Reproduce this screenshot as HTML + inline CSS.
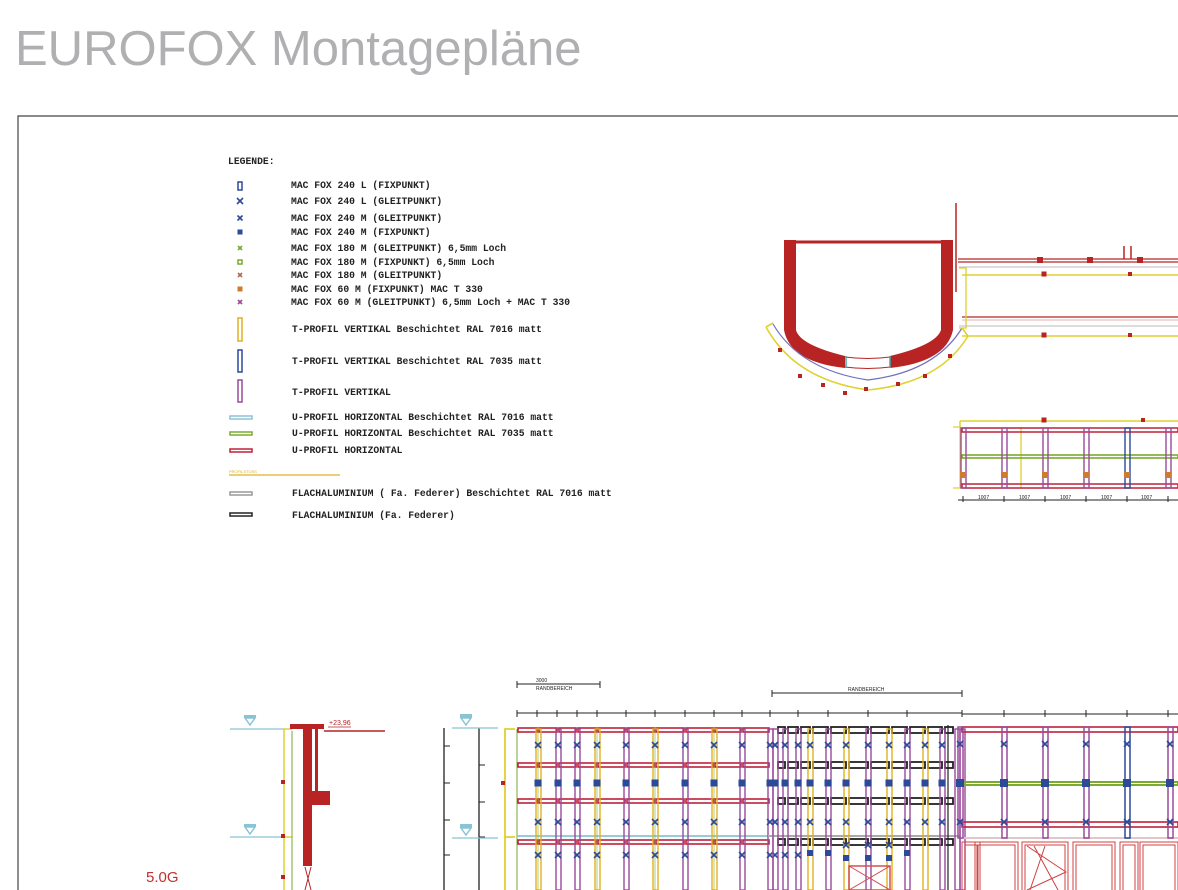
<!DOCTYPE html>
<html><head><meta charset="utf-8"><style>
html,body{margin:0;padding:0;background:#fff;width:1178px;height:890px;overflow:hidden}
svg{display:block}
.t{font-family:"Liberation Mono",monospace;font-weight:bold;font-size:9.7px;fill:#222}
.s{font-family:"Liberation Sans",sans-serif;font-size:5px;fill:#222}
</style></head><body>
<svg id="s" width="1178" height="890" xmlns="http://www.w3.org/2000/svg">
<text x="15" y="65" font-family="Liberation Sans,sans-serif" font-size="49" fill="#b0b0b3">EUROFOX Montagepläne</text>
<path d="M18 890V116H1178" fill="none" stroke="#444" stroke-width="1.2"/>
<text x="228" y="164" class="t" font-size="11">LEGENDE:</text>
<g class="t">
<text x="291" y="188">MAC FOX 240 L (FIXPUNKT)</text>
<text x="291" y="204">MAC FOX 240 L (GLEITPUNKT)</text>
<text x="291" y="221">MAC FOX 240 M (GLEITPUNKT)</text>
<text x="291" y="235">MAC FOX 240 M (FIXPUNKT)</text>
<text x="291" y="251">MAC FOX 180 M (GLEITPUNKT) 6,5mm Loch</text>
<text x="291" y="265">MAC FOX 180 M (FIXPUNKT) 6,5mm Loch</text>
<text x="291" y="278">MAC FOX 180 M (GLEITPUNKT)</text>
<text x="291" y="292">MAC FOX 60 M (FIXPUNKT) MAC T 330</text>
<text x="291" y="305">MAC FOX 60 M (GLEITPUNKT) 6,5mm Loch + MAC T 330</text>
<text x="292" y="332">T-PROFIL VERTIKAL Beschichtet RAL 7016 matt</text>
<text x="292" y="364">T-PROFIL VERTIKAL Beschichtet RAL 7035 matt</text>
<text x="292" y="395">T-PROFIL VERTIKAL</text>
<text x="292" y="420">U-PROFIL HORIZONTAL Beschichtet RAL 7016 matt</text>
<text x="292" y="436">U-PROFIL HORIZONTAL Beschichtet RAL 7035 matt</text>
<text x="292" y="453">U-PROFIL HORIZONTAL</text>
<text x="292" y="496">FLACHALUMINIUM ( Fa. Federer) Beschichtet RAL 7016 matt</text>
<text x="292" y="518">FLACHALUMINIUM (Fa. Federer)</text>
</g>
<text x="146" y="882" font-family="Liberation Sans,sans-serif" font-size="15" fill="#c03030">5.0G</text>
<text x="329" y="725" font-family="Liberation Sans,sans-serif" font-size="7" fill="#b22">+23,96</text>
<g id="g"></g>
</svg>
<script>
var g=document.getElementById('g'),o='';
function r(x,y,w,h,c,sw,f){o+='<rect x="'+x+'" y="'+y+'" width="'+w+'" height="'+h+'" fill="'+(f||'none')+'" stroke="'+c+'" stroke-width="'+(sw||1.3)+'"/>';}
function l(x1,y1,x2,y2,c,sw){o+='<line x1="'+x1+'" y1="'+y1+'" x2="'+x2+'" y2="'+y2+'" stroke="'+c+'" stroke-width="'+(sw||1)+'"/>';}
function X(x,y,c,s){s=s||3;l(x-s,y-s,x+s,y+s,c,1.6);l(x-s,y+s,x+s,y-s,c,1.6);}
function S(x,y,c,s){s=s||3.5;o+='<rect x="'+(x-s)+'" y="'+(y-s)+'" width="'+2*s+'" height="'+2*s+'" fill="'+c+'"/>';}
var R='#c0203a',P='#9a4a9a',Y='#e0b020',B='#2b4a9a',G='#7aaa30',C='#8ac4d4',K='#222',RD='#b82424';
r(238,182,4,8,B,1.5);X(240,201,B,3);X(240,218,B,2.5);S(240,232,B,2.5);X(240,248,G,2);r(238,260,4,4,G,1.5);X(240,275,'#b06a50',2);S(240,289,'#d07a30',2.5);X(240,302,P,2);
r(238,318,4,23,Y,1.5);r(238,350,4,22,B,1.5);r(238,380,4,22,P,1.5);
r(230,416,22,3,C,1.5);r(230,432,22,3,G,1.5);r(230,449,22,3,R,1.5);
l(229,475,340,475,Y,1.3);o+='<text x="229" y="473" font-family="Liberation Sans" font-size="4" fill="'+Y+'">PROFILSTOSS</text>';
r(230,492,22,3,'#999',1.5);r(230,513,22,3,K,1.5);
o+='<path d="M790 242H947" stroke="'+RD+'" stroke-width="3" fill="none"/>';
o+='<path d="M784 240H796V330Q800 345 845 356V368Q790 362 784 330Z" fill="'+RD+'"/>';
o+='<path d="M953 240H941V330Q936 345 890 356V368Q946 362 953 330Z" fill="'+RD+'"/>';
o+='<path d="M845 357Q868 360 890 357M845 367Q868 370 890 367" stroke="'+RD+'" fill="none" stroke-width="1"/>';
l(846,356,846,368,'#4aa',1.5);l(890,356,890,368,'#4aa',1.5);
o+='<path d="M773 324Q800 370 868 380Q935 372 962 328" stroke="#7070c0" fill="none" stroke-width="1.2"/>';
o+='<path d="M766 327L773 323M766 327Q795 380 868 390Q940 383 968 336L962 328" stroke="#e0d030" fill="none" stroke-width="1.6"/>';
[[780,350],[800,376],[823,385],[845,393],[866,389],[898,384],[925,376],[950,356],[797,346]].forEach(function(p){S(p[0],p[1],RD,2);});
l(956,203,956,292,RD,1.5);
o+='<path d="M958 259H1178M958 262H1178" stroke="'+RD+'" stroke-width="1.3"/>';
[1040,1090,1140].forEach(function(x){S(x,260,RD,3);});
l(1124,246,1124,259,RD,1.5);l(1131,246,1131,259,RD,1.5);
l(959,267,1178,267,'#bbb',1);l(959,326,1178,326,'#bbb',1);
l(962,275,1178,275,'#e0d030',1.6);l(962,336,1178,336,'#e0d030',1.6);
l(962,317,1178,317,RD,1.3);l(962,320,1178,320,'#e8b0b0',1);
o+='<path d="M959 268H966V328H959" stroke="#e0d030" fill="none" stroke-width="1.3"/>';
S(1044,274,RD,2.5);S(1044,335,RD,2.5);S(1130,274,RD,2);S(1130,335,RD,2);
l(960,421,1178,421,'#e0d030',1.5);l(960,421,960,427,'#e0d030',1.5);S(1044,420,RD,2.5);S(1143,420,RD,2);
o+='<path d="M953 427H960V488H953" stroke="#e0d030" fill="none" stroke-width="1.3"/>';
l(1021,427,1021,488,'#e0d030',1.3);
r(962,428,216,4,R,1.5);r(962,484,216,4,R,1.5);r(962,455,216,3,G,1.6);
[963,1004,1045,1086,1127,1168].forEach(function(x,i){r(x-2,428,5,60,i==4?B:P,1.4);S(x,475,'#d07a30',3);});
l(958,500,1178,500,K,1);[963,1004,1045,1086,1127,1168].forEach(function(x){l(x,496,x,502,K,1);});
[985,1026,1067,1108,1148].forEach(function(x){o+='<text x="'+(x-7)+'" y="499" class="s">1007</text>';});
l(230,729,285,729,C,1.2);l(230,837,285,837,C,1.2);
o+='<path d="M245 718H255L250 725Z" fill="none" stroke="'+C+'" stroke-width="1.5"/><path d="M245 827H255L250 834Z" fill="none" stroke="'+C+'" stroke-width="1.5"/>';
o+='<rect x="244" y="715" width="12" height="3" fill="'+C+'"/><rect x="244" y="824" width="12" height="3" fill="'+C+'"/>';
l(284,729,284,890,'#e0d030',1.5);l(284,729,292,729,'#e0d030',1.5);l(284,837,292,837,'#e0d030',1.5);l(292,731,292,890,G,1);
o+='<rect x="290" y="724" width="34" height="5" fill="'+RD+'"/><rect x="303" y="729" width="9" height="137" fill="'+RD+'"/><rect x="315" y="729" width="3" height="62" fill="'+RD+'"/><rect x="312" y="791" width="18" height="14" fill="'+RD+'"/>';
l(324,731,385,731,RD,1.5);l(328,727,351,727,RD,.8);
S(283,782,RD,2);S(283,836,RD,2);S(283,877,RD,2);
o+='<path d="M305 867L311 890M311 867L305 890" stroke="'+RD+'"/>';
l(444,728,444,890,K,1.3);l(479,728,479,890,K,1.3);
[746,783,820,855].forEach(function(y){l(444,y,450,y,K,1);l(479,y-18,485,y-18,K,1);});
l(452,728,498,728,C,1.2);l(452,838,498,838,C,1.2);
o+='<path d="M461 718H471L466 725Z" fill="none" stroke="'+C+'" stroke-width="1.5"/><path d="M461 828H471L466 835Z" fill="none" stroke="'+C+'" stroke-width="1.5"/>';
o+='<rect x="460" y="714" width="12" height="4" fill="'+C+'"/><rect x="460" y="824" width="12" height="4" fill="'+C+'"/>';
o+='<path d="M515 729H505V890M505 837H515" stroke="#e0d030" fill="none" stroke-width="1.8"/>';S(503,783,RD,2);
l(517,729,517,890,G,1);
l(517,684,600,684,K,1);l(517,681,517,688,K,1);l(600,681,600,688,K,1);
o+='<text x="536" y="682" class="s">3000</text><text x="536" y="690" class="s">RANDBEREICH</text>';
l(772,693,962,693,K,1);l(772,690,772,697,K,1);l(962,690,962,697,K,1);o+='<text x="848" y="691" class="s">RANDBEREICH</text>';
l(517,713,962,713,K,1);l(962,714,1178,714,K,1);
[517,537,557,577,597,626,655,685,714,742,770,798,828,868,907,962,1004,1045,1086,1127,1168].forEach(function(x){l(x,710,x,717,K,1);});
var lv=[517,538,558,577,597,626,655,685,714,742,770];
[730,765,801,842].forEach(function(y){for(var i=0;i<lv.length-1;i++)r(lv[i]+1,y-2,lv[i+1]-lv[i]-2,4,R,1.6);});
l(517,836,770,836,C,1.8);
lv.slice(1).forEach(function(x){var c=(x==538||x==597||x==655||x==714)?Y:P;r(x-2,729,5,161,c,1.4);if(c==Y)l(x,729,x,890,G,.6);X(x,745,B);X(x,822,B);X(x,855,B);S(x,783,B);});
X(775,745,B);X(775,822,B);X(775,855,B);S(775,783,B);
var mv=[775,785,798,810,828,846,868,889,907,925,942,957,962];
var mb=[777,787,800,812,830,848,870,891,909,927,944,955];
[730,765,801,842].forEach(function(y){for(var i=0;i<mb.length-1;i++)r(mb[i]+1,y-3,mb[i+1]-mb[i]-3,6,K,1.8);});
l(768,836,960,836,'#aaa',2);
mv.forEach(function(x){var c=(x==810||x==846||x==889||x==925)?Y:P;r(x-2,729,5,161,c,1.4);if(x<950){X(x,745,B);X(x,822,B);S(x,783,B);}});
[785,798].forEach(function(x){X(x,855,B);});[810,828,907].forEach(function(x){S(x,853,B,3);});[846,868,889].forEach(function(x){S(x,858,B,3);X(x,845,B);});
l(948,725,948,890,K,1.2);
r(849,866,41,24,'#d05050',1.5);l(849,866,890,890,'#d05050',1);l(890,866,849,890,'#d05050',1);
[729,824].forEach(function(y){r(962,y-2,216,5,R,1.6);});r(962,782,216,3,G,2);
l(962,838,1178,838,'#e0c8c8',2);
[960,1004,1045,1086,1127,1170].forEach(function(x,i){r(x-2,727,5,111,i==4?B:P,1.5);X(x,744,B);X(x,822,B);S(x,783,B,4);});
o+='<g stroke="#d04040" fill="none" stroke-width="1">';
[[962,980],[975,1018],[1022,1068],[1073,1115],[1120,1138],[1140,1178]].forEach(function(a){o+='<rect x="'+a[0]+'" y="842" width="'+(a[1]-a[0])+'" height="50"/><rect x="'+(a[0]+3)+'" y="845" width="'+(a[1]-a[0]-6)+'" height="50"/>';});
o+='<path d="M1027 846L1066 872L1027 890M1034 846L1058 890M1045 846L1030 890"/></g>';
g.innerHTML=o;
</script>
</body></html>
